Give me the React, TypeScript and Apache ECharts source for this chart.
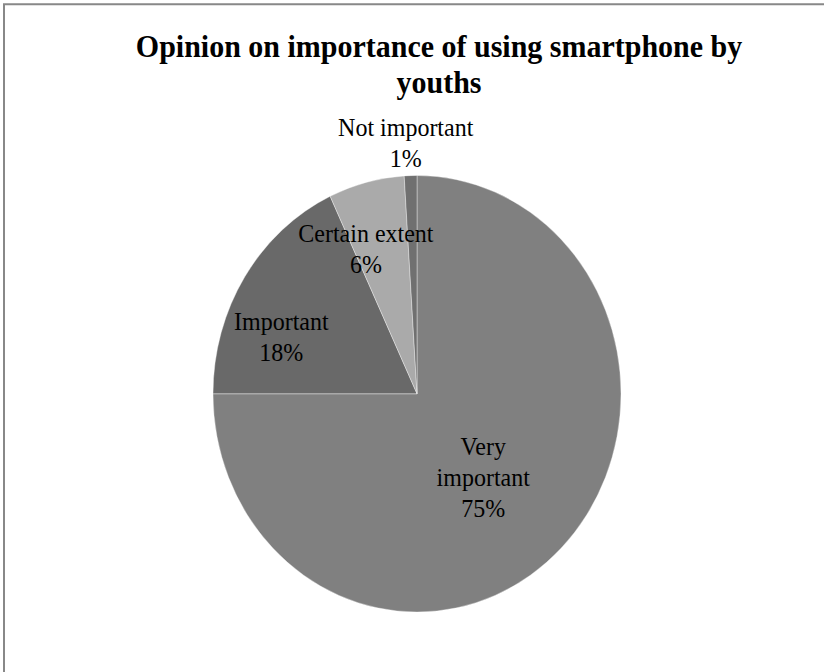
import React, { useEffect, useRef } from "react";
import * as echarts from "echarts";

const titleText = "Opinion on importance of using smartphone by\nyouths";
const categories = ["Very important", "Important", "Certain extent", "Not important"];
const values = [75, 18, 6, 1];
const labelNames = ["Very\nimportant", "Important", "Certain extent", "Not important"];
const colors = ["#808080", "#696969", "#aaaaaa", "#707070"];
const labelOffsets: Record<string, number[]> = {
  "Very important": [-8, 4],
  "Important": [-47, 3],
  "Certain extent": [-25, -34],
  "Not important": [-8, -130],
};

const SCALE_Y = 1.07;
const W = 824;
const H = Math.round(672 / SCALE_Y);
const SERIF = "'Liberation Serif', 'Times New Roman', serif";

export default function App() {
  const ref = useRef<HTMLDivElement>(null);
  useEffect(() => {
    if (!ref.current) return;
    const chart = echarts.init(ref.current, undefined, { renderer: "svg" });
    chart.setOption({
      animation: false,
      backgroundColor: "#ffffff",
      textStyle: { fontFamily: SERIF },
      title: {
        text: titleText,
        left: 434,
        top: 21,
        textAlign: "center",
        textStyle: {
          fontFamily: SERIF,
          fontWeight: "bold",
          fontSize: 30,
          lineHeight: 34,
          color: "#000000",
        },
      },
      graphic: [
        {
          type: "polyline",
          shape: { points: [[4, H + 10], [4, 4], [W + 10, 4]] },
          style: { stroke: "#888888", lineWidth: 2, fill: null },
          silent: true,
        },
      ],
      series: [
        {
          type: "pie",
          center: [417, 368],
          radius: [0, 204],
          startAngle: 90,
          clockwise: true,
          avoidLabelOverlap: false,
          itemStyle: { borderColor: "rgba(255,255,255,0.45)", borderWidth: 0.8 },
          label: {
            show: true,
            position: "inner",
            fontFamily: SERIF,
            fontSize: 24,
            lineHeight: 29,
            color: "#000000",
            align: "center",
          },
          labelLine: { show: false },
          emphasis: { disabled: true },
          data: categories.map((name, i) => ({
            name,
            value: values[i],
            itemStyle: { color: colors[i] },
            label: {
              fontFamily: SERIF,
              fontSize: 24,
              lineHeight: 29,
              color: "#000000",
              offset: labelOffsets[name],
              formatter: (p: any) => `${labelNames[i]}\n${Math.round(p.percent)}%`,
            },
          })),
        },
      ],
    });
    return () => chart.dispose();
  }, []);
  return (
    <div
      style={{
        position: "fixed",
        left: 0,
        top: 0,
        width: W,
        height: 672,
        overflow: "hidden",
        background: "#fff",
      }}
    >
      <div
        ref={ref}
        style={{
          width: W,
          height: H,
          transform: `scaleY(${SCALE_Y})`,
          transformOrigin: "0 0",
        }}
      />
    </div>
  );
}
